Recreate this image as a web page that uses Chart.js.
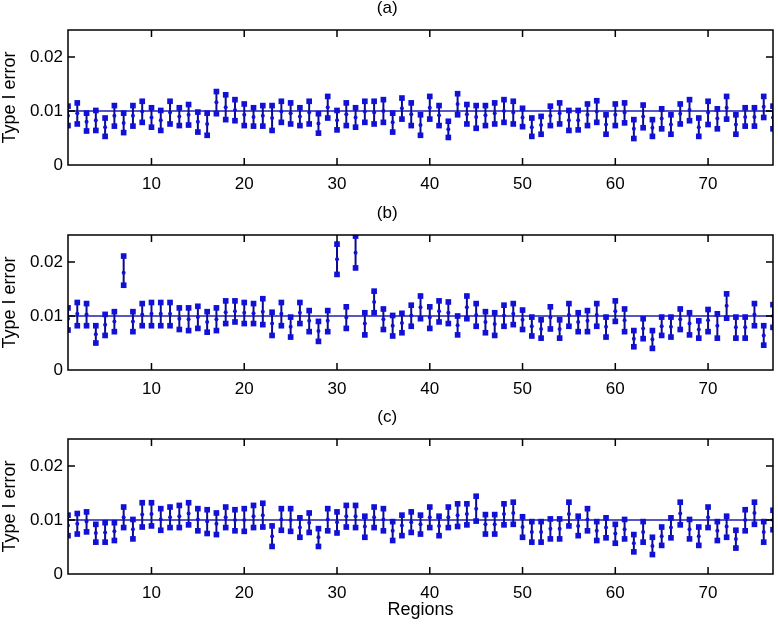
<!DOCTYPE html>
<html><head><meta charset="utf-8">
<script src="https://cdn.jsdelivr.net/npm/chart.js@4.4.1/dist/chart.umd.min.js"></script>
<style>
html,body{margin:0;padding:0;background:#fff;width:778px;height:624px;overflow:hidden;}
canvas{position:absolute;left:0;}
</style></head><body>
<canvas id="ca" width="778" height="200" style="top:0px"></canvas>
<canvas id="cb" width="778" height="200" style="top:205px"></canvas>
<canvas id="cc" width="778" height="215" style="top:409px"></canvas>
<script>
// ---- data ----
const regions = Array.from({length: 77}, (_, i) => i + 1);
const xTicks = [10, 20, 30, 40, 50, 60, 70];
const yTicks = [0, 0.01, 0.02];
const yTickLabels = ['0', '0.01', '0.02'];
const nominalLevel = 0.01;
const panelTitles = ['(a)', '(b)', '(c)'];
const yAxisTitle = 'Type I error';
const xAxisTitle = 'Regions';

const aHigh = [.0109,.0115,.0096,.0101,.0087,.0110,.0096,.0110,.0118,.0106, .0101,.0118,.0106,.0112,.0098,.0096,.0136,.0130,.0121,.0113, .0106,.0110,.0110,.0118,.0115,.0106,.0118,.0095,.0127,.0101, .0115,.0106,.0118,.0118,.0121,.0096,.0124,.0115,.0093,.0127, .0110,.0081,.0132,.0112,.0110,.0110,.0115,.0121,.0118,.0105, .0087,.0090,.0109,.0115,.0101,.0101,.0113,.0119,.0093,.0113, .0115,.0084,.0111,.0084,.0104,.0093,.0113,.0121,.0087,.0118, .0104,.0127,.0093,.0106,.0106,.0127,.0109];
const aMid = [.0091,.0096,.0080,.0083,.0070,.0091,.0078,.0091,.0099,.0088, .0083,.0097,.0090,.0093,.0080,.0076,.0116,.0107,.0102,.0093, .0089,.0091,.0087,.0099,.0096,.0090,.0097,.0077,.0107,.0083, .0094,.0088,.0099,.0097,.0100,.0079,.0105,.0094,.0074,.0106, .0092,.0066,.0113,.0094,.0089,.0092,.0096,.0100,.0097,.0088, .0070,.0074,.0091,.0096,.0083,.0083,.0093,.0099,.0075,.0093, .0097,.0067,.0090,.0069,.0086,.0075,.0095,.0102,.0070,.0097, .0086,.0106,.0075,.0089,.0089,.0108,.0088];
const aLow = [.0073,.0076,.0063,.0064,.0053,.0072,.0060,.0072,.0079,.0070, .0064,.0076,.0073,.0074,.0061,.0055,.0095,.0084,.0082,.0073, .0072,.0072,.0064,.0079,.0076,.0073,.0076,.0059,.0087,.0065, .0073,.0070,.0079,.0076,.0079,.0061,.0085,.0073,.0055,.0085, .0073,.0051,.0093,.0076,.0068,.0073,.0076,.0079,.0076,.0071, .0053,.0057,.0073,.0076,.0064,.0065,.0073,.0079,.0057,.0073, .0078,.0049,.0069,.0053,.0067,.0057,.0076,.0082,.0053,.0075, .0067,.0085,.0057,.0072,.0072,.0088,.0067];

const bHigh = [.0115,.0125,.0123,.0082,.0103,.0108,.0211,.0108,.0123,.0125, .0125,.0125,.0115,.0115,.0118,.0108,.0115,.0128,.0128,.0125, .0123,.0132,.0107,.0125,.0098,.0125,.0110,.0090,.0110,.0233, .0117,.0248,.0106,.0146,.0113,.0101,.0105,.0120,.0137,.0117, .0128,.0126,.0100,.0137,.0123,.0108,.0106,.0120,.0123,.0111, .0098,.0093,.0117,.0093,.0123,.0106,.0110,.0123,.0098,.0128, .0113,.0073,.0095,.0073,.0098,.0098,.0113,.0106,.0091,.0112, .0104,.0141,.0098,.0098,.0123,.0082,.0121];
const bMid = [.0095,.0104,.0103,.0066,.0084,.0090,.0180,.0090,.0103,.0104, .0104,.0104,.0095,.0094,.0098,.0089,.0094,.0107,.0109,.0106, .0105,.0108,.0086,.0104,.0080,.0106,.0091,.0072,.0091,.0205, .0097,.0217,.0086,.0126,.0094,.0082,.0087,.0101,.0116,.0097, .0109,.0106,.0083,.0116,.0102,.0089,.0085,.0101,.0104,.0093, .0081,.0076,.0097,.0076,.0102,.0089,.0091,.0102,.0080,.0109, .0092,.0058,.0077,.0057,.0081,.0080,.0094,.0086,.0075,.0092, .0082,.0119,.0079,.0079,.0103,.0064,.0100];
const bLow = [.0074,.0082,.0082,.0050,.0064,.0071,.0157,.0071,.0082,.0082, .0082,.0082,.0075,.0073,.0077,.0070,.0073,.0086,.0089,.0086, .0086,.0084,.0064,.0082,.0061,.0086,.0071,.0053,.0071,.0177, .0077,.0189,.0065,.0106,.0075,.0063,.0069,.0081,.0095,.0077, .0089,.0086,.0065,.0095,.0081,.0069,.0064,.0081,.0084,.0075, .0063,.0059,.0076,.0059,.0081,.0071,.0071,.0081,.0061,.0090, .0071,.0043,.0058,.0040,.0064,.0061,.0075,.0065,.0059,.0071, .0059,.0096,.0059,.0059,.0082,.0046,.0079];

const cHigh = [.0109,.0112,.0115,.0092,.0095,.0095,.0124,.0101,.0132,.0132, .0121,.0124,.0127,.0132,.0121,.0119,.0113,.0124,.0119,.0121, .0127,.0131,.0089,.0121,.0121,.0104,.0113,.0084,.0121,.0115, .0127,.0127,.0107,.0124,.0121,.0097,.0109,.0115,.0109,.0124, .0107,.0124,.0130,.0130,.0144,.0110,.0110,.0130,.0133,.0106, .0097,.0097,.0102,.0102,.0133,.0107,.0121,.0097,.0104,.0092, .0101,.0073,.0097,.0068,.0087,.0104,.0133,.0101,.0087,.0124, .0097,.0107,.0081,.0119,.0133,.0097,.0118];
const cMid = [.0090,.0093,.0097,.0076,.0077,.0079,.0105,.0083,.0110,.0111, .0101,.0105,.0107,.0112,.0101,.0097,.0093,.0105,.0100,.0100, .0107,.0109,.0070,.0101,.0100,.0086,.0095,.0068,.0101,.0096, .0107,.0107,.0088,.0105,.0101,.0080,.0090,.0096,.0092,.0105, .0089,.0105,.0109,.0111,.0121,.0092,.0092,.0111,.0113,.0087, .0078,.0078,.0084,.0084,.0111,.0089,.0101,.0080,.0086,.0075, .0083,.0057,.0078,.0052,.0070,.0086,.0112,.0083,.0070,.0105, .0080,.0088,.0065,.0100,.0113,.0078,.0100];
const cLow = [.0071,.0074,.0078,.0059,.0059,.0062,.0086,.0065,.0087,.0089, .0081,.0086,.0086,.0091,.0080,.0075,.0073,.0086,.0080,.0079, .0086,.0087,.0051,.0081,.0079,.0068,.0077,.0051,.0080,.0076, .0087,.0086,.0068,.0086,.0080,.0062,.0071,.0077,.0074,.0086, .0071,.0086,.0088,.0091,.0098,.0074,.0074,.0091,.0092,.0068, .0059,.0059,.0065,.0065,.0089,.0071,.0080,.0062,.0067,.0057, .0065,.0041,.0059,.0036,.0053,.0067,.0091,.0065,.0053,.0086, .0062,.0068,.0048,.0080,.0092,.0059,.0082];

// ---- styling ----
const FONT = "'Liberation Sans', Arial, Helvetica, sans-serif";
const MARK = '#1010d8';
const STEM = '#0c0c88';
const REF = '#1e1eb4';
Chart.defaults.font.family = FONT;
Chart.defaults.color = '#000';

const boxPlugin = {
  id: 'matlabBox',
  afterDraw(chart) {
    const {ctx, chartArea: a} = chart;
    const x = chart.scales.x, y = chart.scales.y;
    ctx.save();
    ctx.strokeStyle = '#000';
    ctx.lineWidth = 1.5;
    ctx.strokeRect(a.left, a.top, a.right - a.left, a.bottom - a.top);
    ctx.beginPath();
    x.ticks.forEach(t => {
      const px = x.getPixelForValue(t.value);
      ctx.moveTo(px, a.bottom); ctx.lineTo(px, a.bottom - 7);
      ctx.moveTo(px, a.top); ctx.lineTo(px, a.top + 7);
    });
    y.ticks.forEach(t => {
      const py = y.getPixelForValue(t.value);
      if (py >= a.bottom - 1 || py <= a.top + 1) return;
      ctx.moveTo(a.left, py); ctx.lineTo(a.left + 7, py);
      ctx.moveTo(a.right, py); ctx.lineTo(a.right - 7, py);
    });
    ctx.stroke();
    ctx.restore();
  }
};

function stemPoints(lo, hi) {
  const pts = [];
  regions.forEach((r, i) => { pts.push({x: r, y: lo[i]}, {x: r, y: hi[i]}, {x: r, y: null}); });
  return pts;
}

function makePanel(id, title, lo, mid, hi, showXTitle) {
  const canvasH = document.getElementById(id).height;
  const bottomPad = showXTitle ? 5 : 0;
  const xAxisH = canvasH - bottomPad - 165;
  return new Chart(document.getElementById(id), {
    type: 'scatter',
    data: {
      datasets: [
        { type: 'scatter', data: regions.map((r, i) => ({x: r, y: mid[i]})),
          pointStyle: 'circle', pointRadius: 2, pointBackgroundColor: MARK, pointBorderColor: MARK, pointBorderWidth: 0, order: 0 },
        { type: 'scatter', data: regions.map((r, i) => ({x: r, y: lo[i]})).concat(regions.map((r, i) => ({x: r, y: hi[i]}))),
          pointStyle: 'rect', pointRadius: 4, pointBackgroundColor: MARK, pointBorderColor: MARK, pointBorderWidth: 0, order: 1 },
        { type: 'line', data: stemPoints(lo, hi), borderColor: STEM, borderWidth: 2,
          pointRadius: 0, spanGaps: false, fill: false, tension: 0, order: 2 },
        { type: 'line', data: [{x: regions[0], y: nominalLevel}, {x: regions[regions.length - 1], y: nominalLevel}],
          borderColor: REF, borderWidth: 1.5, pointRadius: 0, fill: false, order: 3 }
      ]
    },
    options: {
      responsive: false, animation: false, devicePixelRatio: 1,
      layout: { padding: { left: 1.5, right: 5, top: 0, bottom: bottomPad } },
      plugins: {
        legend: { display: false }, tooltip: { enabled: false },
        title: { display: true, text: title, color: '#000',
          font: { family: FONT, size: 17, weight: 'normal', lineHeight: 1 }, padding: { top: 0, bottom: 13 } }
      },
      scales: {
        x: {
          type: 'linear', min: 1, max: 77,
          afterBuildTicks: s => { s.ticks = xTicks.map(v => ({value: v})); },
          grid: { display: false, drawTicks: false }, border: { display: false },
          ticks: { color: '#000', font: { family: FONT, size: 17 }, padding: 9, maxRotation: 0, autoSkip: false },
          title: { display: showXTitle, text: xAxisTitle, color: '#000', font: { family: FONT, size: 18, lineHeight: 1 }, padding: 0 },
          afterFit: s => { s.height = xAxisH; }
        },
        y: {
          type: 'linear', min: 0, max: 0.025,
          afterBuildTicks: s => { s.ticks = yTicks.map(v => ({value: v})); },
          grid: { display: false, drawTicks: false }, border: { display: false },
          ticks: { color: '#000', font: { family: FONT, size: 17 }, padding: 5,
            callback: v => yTickLabels[yTicks.indexOf(v)] },
          title: { display: true, text: yAxisTitle, color: '#000', font: { family: FONT, size: 18, lineHeight: 1 }, padding: 0 },
          afterFit: s => { s.width = 66.5; }
        }
      }
    },
    plugins: [boxPlugin]
  });
}

makePanel('ca', panelTitles[0], aLow, aMid, aHigh, false);
makePanel('cb', panelTitles[1], bLow, bMid, bHigh, false);
makePanel('cc', panelTitles[2], cLow, cMid, cHigh, true);
</script>
</body></html>
